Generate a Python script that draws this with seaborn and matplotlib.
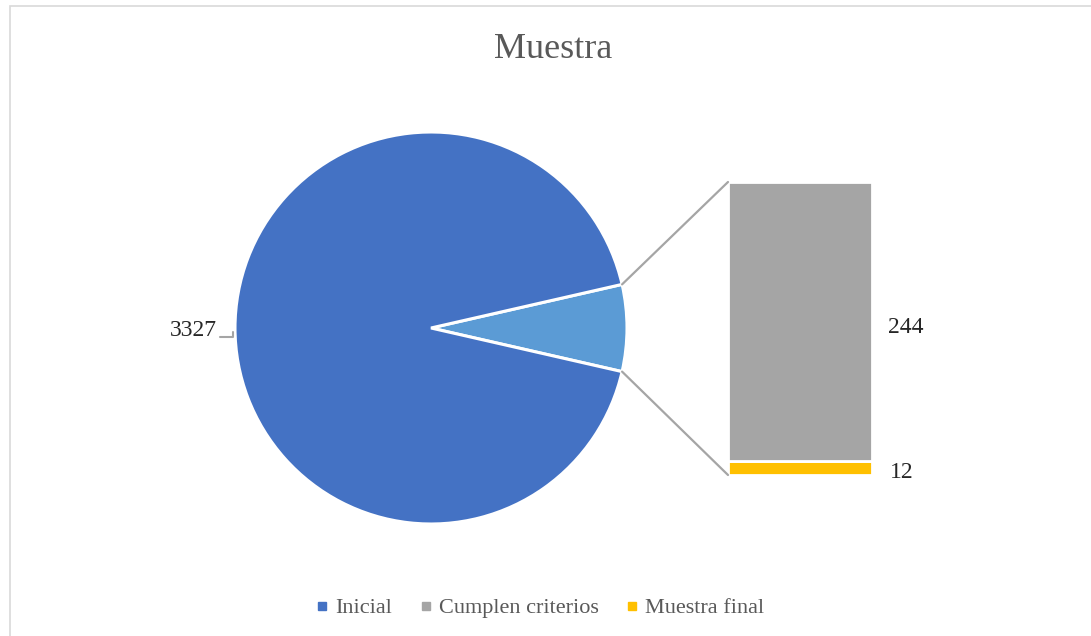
import matplotlib
matplotlib.use("Agg")
import matplotlib.pyplot as plt
from matplotlib.patches import ConnectionPatch, Rectangle
from matplotlib.lines import Line2D
import numpy as np
import seaborn as sns

# Data
categories = ["Inicial", "Cumplen criterios", "Muestra final"]
values = [3327, 244, 12]
colors = ["#4472C4", "#A5A5A5", "#FFC000"]
other_color = "#5B9BD5"

sns.set_theme(style="white")
plt.rcParams["font.family"] = ["Liberation Serif", "DejaVu Serif"]

W, H = 1091, 636
fig = plt.figure(figsize=(W / 100, H / 100), dpi=100)
fig.patch.set_facecolor("white")

# Chart border
fig.add_artist(Rectangle((10 / W, -0.05), 1.1, 1 - 6 / H + 0.05,
                         transform=fig.transFigure, fill=False,
                         edgecolor="#D9D9D9", linewidth=1.2))

def px_axes(left, top, right, bottom):
    return fig.add_axes([left / W, 1 - bottom / H, (right - left) / W, (bottom - top) / H])

# Pie of the main category vs. the aggregated remainder
ax_pie = px_axes(235, 132, 627, 524)
rest = values[1] + values[2]
pie_vals = [rest, values[0]]
rest_angle = rest / sum(pie_vals) * 360
ax_pie.pie(pie_vals, colors=[other_color, colors[0]], startangle=-rest_angle / 2,
           counterclock=True, wedgeprops=dict(edgecolor="white", linewidth=2.2))
ax_pie.set_xlim(-1, 1)
ax_pie.set_ylim(-1, 1)
ax_pie.set_aspect("equal")
ax_pie.axis("off")

# Label of the main slice with its small leader
ax_pie.text(-1.09, -0.012, f"{values[0]}", ha="right", va="center",
            fontsize=17, color="#262626")
ax_pie.plot([-1.075, -1.01, -1.01], [-0.045, -0.045, -0.02],
            color="#A5A5A5", linewidth=1.5, clip_on=False)

# Stacked bar breaking down the remainder
ax_bar = px_axes(728, 182, 872, 475)
sns.barplot(x=[0], y=[values[2]], color=colors[2], ax=ax_bar, width=1.0,
            saturation=1, edgecolor="white", linewidth=2)
ax_bar.bar([0], [values[1]], bottom=values[2], width=1.0, color=colors[1],
           edgecolor="white", linewidth=2)
ax_bar.set_xlim(-0.5, 0.5)
ax_bar.set_ylim(0, rest)
ax_bar.axis("off")

ax_bar.text(0.61, values[2] + values[1] / 2 - 5, f"{values[1]}", ha="left", va="center",
            fontsize=17, color="#262626")
ax_bar.text(0.625, values[2] / 2 - 3.5, f"{values[2]}", ha="left", va="center",
            fontsize=17, color="#262626")

# Connector lines between the slice edges and the bar corners
a = np.deg2rad(rest_angle / 2)
for sgn, ybar in [(1, rest), (-1, 0)]:
    con = ConnectionPatch(xyA=(np.cos(a), sgn * np.sin(a)), coordsA=ax_pie.transData,
                          xyB=(-0.5, ybar), coordsB=ax_bar.transData,
                          color="#A5A5A5", linewidth=1.6)
    fig.add_artist(con)

# Title
fig.text(553 / W, 1 - 49 / H, "Muestra", ha="center", va="center",
         fontsize=26, color="#595959")

# Legend
handles = [Line2D([0], [0], marker="s", linestyle="none", markersize=5.5,
                  markerfacecolor=c, markeredgecolor=c) for c in colors]
fig.legend(handles, categories, loc="center", bbox_to_anchor=(540 / W, 1 - 608 / H),
           ncol=3, frameon=False, fontsize=16, labelcolor="#595959",
           handlelength=0.6, handletextpad=0.3, columnspacing=1.2)

fig.savefig("out.png", dpi=100, facecolor="white")
